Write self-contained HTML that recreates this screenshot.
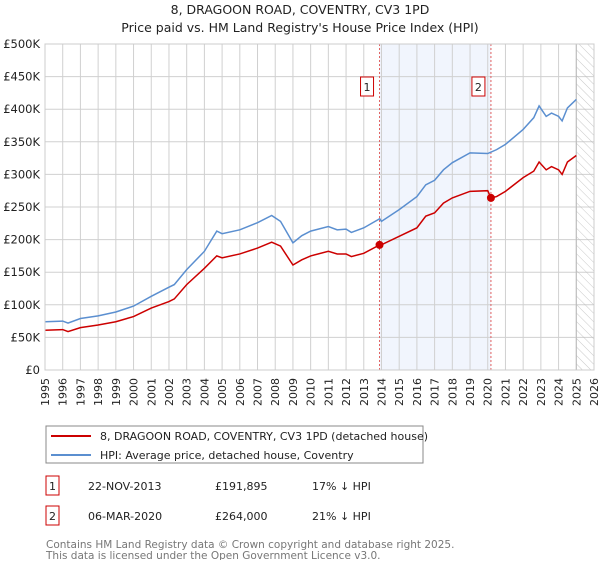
<!DOCTYPE html>
<html><head><meta charset="utf-8"><style>
body{margin:0;background:#fff;font-family:"Liberation Sans","DejaVu Sans",sans-serif;}
svg text{font-family:"DejaVu Sans","Liberation Sans",sans-serif;}
</style></head><body>
<svg id="c" width="600" height="560" xmlns="http://www.w3.org/2000/svg">
<defs><pattern id="hatch" width="6" height="6" patternUnits="userSpaceOnUse" patternTransform="rotate(-45)"><line x1="0" y1="0" x2="0" y2="6" stroke="#bbb" stroke-width="0.8"/></pattern></defs>
<text x="300" y="14" text-anchor="middle" font-size="12.5" fill="#222">8, DRAGOON ROAD, COVENTRY, CV3 1PD</text>
<text x="300" y="32" text-anchor="middle" font-size="12.5" fill="#222">Price paid vs. HM Land Registry's House Price Index (HPI)</text>
<g id="plot"></g>
<g>
<rect x="46" y="426" width="377" height="37" fill="#fff" stroke="#888"/>
<line x1="51" y1="436" x2="91" y2="436" stroke="#cc0000" stroke-width="2"/>
<text x="100" y="440" font-size="11" fill="#222">8, DRAGOON ROAD, COVENTRY, CV3 1PD (detached house)</text>
<line x1="51" y1="455" x2="91" y2="455" stroke="#5b8fd0" stroke-width="2"/>
<text x="100" y="459" font-size="11" fill="#222">HPI: Average price, detached house, Coventry</text>
</g>
<g font-size="11" fill="#222">
<rect x="46" y="476" width="13" height="19" fill="#fff" stroke="#cc0000"/><text x="52.5" y="490" text-anchor="middle">1</text>
<text x="88" y="490">22-NOV-2013</text><text x="215" y="490">£191,895</text><text x="312" y="490">17% ↓ HPI</text>
<rect x="46" y="506" width="13" height="19" fill="#fff" stroke="#cc0000"/><text x="52.5" y="520" text-anchor="middle">2</text>
<text x="88" y="520">06-MAR-2020</text><text x="215" y="520">£264,000</text><text x="312" y="520">21% ↓ HPI</text>
</g>
<text x="46" y="548" font-size="10.5" fill="#777">Contains HM Land Registry data © Crown copyright and database right 2025.</text>
<text x="46" y="559" font-size="10.5" fill="#777">This data is licensed under the Open Government Licence v3.0.</text>
</svg>
<script>
const yearTicks=[1995,1996,1997,1998,1999,2000,2001,2002,2003,2004,2005,2006,2007,2008,2009,2010,2011,2012,2013,2014,2015,2016,2017,2018,2019,2020,2021,2022,2023,2024,2025,2026];
const valueTicks=[0,50000,100000,150000,200000,250000,300000,350000,400000,450000,500000];
const valueTickLabels=["£0","£50K","£100K","£150K","£200K","£250K","£300K","£350K","£400K","£450K","£500K"];
const hpiYears=[1995,1996,1996.3,1997,1998,1999,2000,2001,2002,2002.3,2003,2004,2004.7,2005,2006,2007,2007.8,2008.3,2009,2009.5,2010,2011,2011.5,2012,2012.3,2013,2013.9,2014,2015,2016,2016.5,2017,2017.5,2018,2019,2020,2020.5,2021,2022,2022.6,2022.9,2023.3,2023.6,2024,2024.2,2024.5,2025];
const hpiValues=[74000,75000,72000,79000,83000,89000,98000,113000,127000,131000,154000,182000,213000,209000,215000,226000,237000,228000,195000,206000,213000,220000,215000,216000,211000,218000,232000,228000,246000,266000,284000,291000,307000,318000,333000,332000,338000,346000,369000,387000,405000,389000,394000,389000,382000,402000,415000];
const priceYears=[1995,1996,1996.3,1997,1998,1999,2000,2001,2002,2002.3,2003,2004,2004.7,2005,2006,2007,2007.8,2008.3,2009,2009.5,2010,2011,2011.5,2012,2012.3,2013,2013.9,2014,2015,2016,2016.5,2017,2017.5,2018,2019,2020,2020.18,2020.5,2021,2022,2022.6,2022.9,2023.3,2023.6,2024,2024.2,2024.5,2025];
const priceValues=[61000,62000,59000,65000,69000,74000,82000,95000,105000,109000,131000,156000,175000,172000,178000,187000,196000,190000,161000,169000,175000,182000,178000,178000,174000,179000,191895,192000,205000,218000,236000,241000,256000,264000,274000,275000,264000,266000,274000,295000,305000,319000,307000,312000,307000,300000,319000,329000];
const saleYears=[2013.89,2020.18];
const saleValues=[191895,264000];
const saleLabels=["1","2"];
const X0=45,X1=594,Y0=370,Y1=44;
const x=y=>X0+(y-1995)/(2026-1995)*(X1-X0);
const yv=v=>Y0-v/500000*(Y0-Y1);
const NS="http://www.w3.org/2000/svg";
const g=document.getElementById('plot');
function mk(t,a){const e=document.createElementNS(NS,t);for(const k in a)e.setAttribute(k,a[k]);g.appendChild(e);return e;}
let e;
e=mk('rect',{x:x(saleYears[0]),y:Y1,width:x(saleYears[1])-x(saleYears[0]),height:Y0-Y1,fill:'#eef3fc',opacity:0.8});


yearTicks.forEach(t=>{mk('line',{x1:x(t),x2:x(t),y1:Y1,y2:Y0,stroke:'#d0d0d0','stroke-width':1});
 const tx=mk('text',{x:0,y:0,'font-size':11,fill:'#222','text-anchor':'end',transform:`translate(${x(t)+4},${Y0+8}) rotate(-90)`});tx.textContent=t;
 
 });
valueTicks.forEach((v,i)=>{mk('line',{x1:X0,x2:X1,y1:yv(v),y2:yv(v),stroke:'#d0d0d0','stroke-width':1});
 const tx=mk('text',{x:40,y:yv(v)+4,'font-size':11.5,fill:'#222','text-anchor':'end'});tx.textContent=valueTickLabels[i];
 
 });
e=mk('rect',{x:x(2025),y:Y1,width:X1-x(2025),height:Y0-Y1,fill:'url(#hatch)',stroke:'#bbb'});


saleYears.forEach(s=>{mk('line',{x1:x(s),x2:x(s),y1:Y1,y2:Y0,stroke:'#e06060','stroke-dasharray':'2,2','stroke-width':1});});
e=mk('polyline',{points:hpiYears.map((t,i)=>x(t)+','+yv(hpiValues[i])).join(' '),fill:'none',stroke:'#5b8fd0','stroke-width':1.5});


e=mk('polyline',{points:priceYears.map((t,i)=>x(t)+','+yv(priceValues[i])).join(' '),fill:'none',stroke:'#cc0000','stroke-width':1.5});


saleYears.forEach((s,i)=>{e=mk('circle',{cx:x(s),cy:yv(saleValues[i]),r:4,fill:'#cc0000'});
 
 
 const b=mk('rect',{x:x(s)-19,y:77,width:13,height:19,fill:'#fff',stroke:'#cc0000'});
 
 
 const tx=mk('text',{x:x(s)-12.5,y:91,'font-size':11,fill:'#222','text-anchor':'middle'});tx.textContent=saleLabels[i];});
mk('rect',{x:X0,y:Y1,width:X1-X0,height:Y0-Y1,fill:'none',stroke:'#ccc'});
</script>
</body></html>
